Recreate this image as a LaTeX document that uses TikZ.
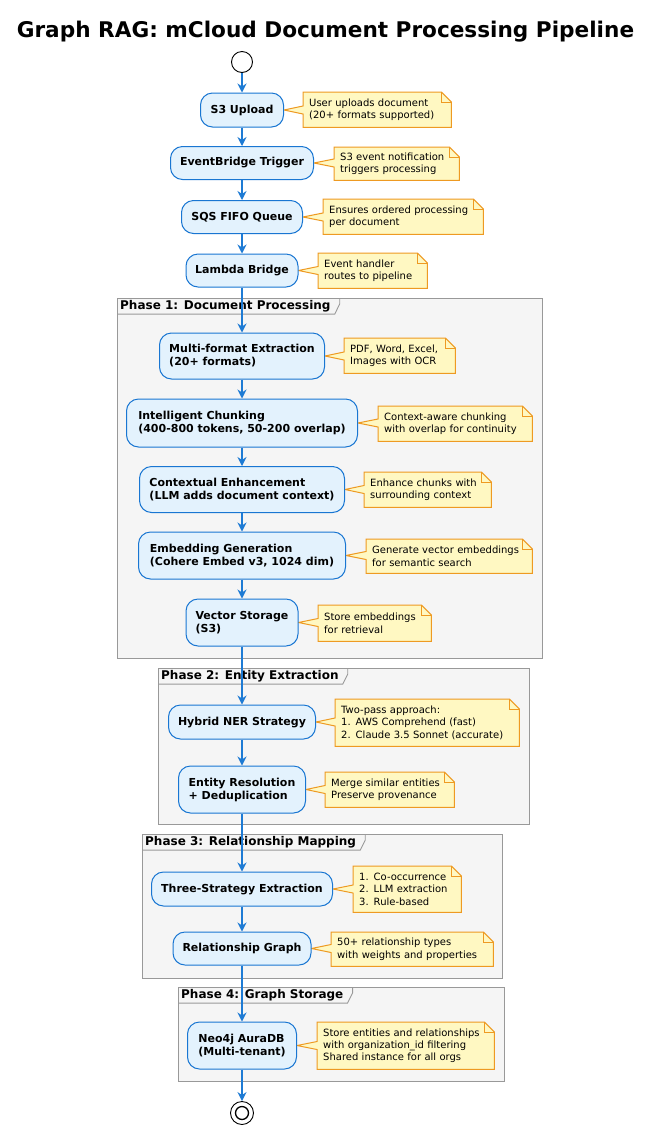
\documentclass[tikz,border=0pt]{standalone}
\usepackage{fontspec}
\setmainfont{DejaVu Sans}
\usetikzlibrary{arrows.meta,calc}
\definecolor{actfill}{HTML}{E3F2FD}
\definecolor{actdraw}{HTML}{1976D2}
\definecolor{flow}{HTML}{1E7BD4}
\definecolor{notefill}{HTML}{FFF8C2}
\definecolor{notedraw}{HTML}{EE9A22}
\definecolor{framefill}{HTML}{F5F5F5}
\definecolor{framedraw}{HTML}{999999}
\pgfdeclarelayer{paper}
\pgfdeclarelayer{frames}
\pgfdeclarelayer{notebg}
\pgfsetlayers{paper,frames,notebg,main}
\newcommand\notefor[2]{%
  \begin{pgfonlayer}{notebg}
  \path[noteshape] (#2.north west) -- ([xshift=-10pt]#2.north east) -- ([yshift=-10pt]#2.north east)
     -- (#2.south east) -- (#2.south west) -- ($(#2.west|-#1.east)+(0,4)$) -- (#1.east)
     -- ($(#2.west|-#1.east)+(0,-4)$) -- cycle;
  \draw[draw=notedraw, line width=1pt] ([xshift=-10pt]#2.north east) |- ([yshift=-10pt]#2.north east);
  \end{pgfonlayer}}
\newcommand\phaseframe[6]{% name, x1, y1, x2, y2, title
  \begin{pgfonlayer}{frames}
  \path[framebox] (#2,#3) rectangle (#4,#5);
  \node[tabtext] (#1) at (#2,#3) {#6};
  \draw[draw=framedraw, line width=0.9pt] (#1.south west) -- ($(#1.south east)+(1,0)$)
     -- ($(#1.north east)+(6,6)$) -- ($(#1.north east)+(6,0)$);
  \end{pgfonlayer}}
\begin{document}
\begin{tikzpicture}[x=1pt,y=-1pt,
  act/.style={draw=actdraw, fill=actfill, line width=1pt, rounded corners=12pt, align=left,
    inner sep=0pt, font=\fontsize{11}{13}\selectfont\bfseries},
  notetext/.style={anchor=north west, inner xsep=6pt, inner ysep=0pt, align=left,
    font=\fontsize{10}{12.3}\selectfont},
  noteshape/.style={fill=notefill, draw=notedraw, line width=1pt, line join=miter},
  flowarrow/.style={draw=flow, line width=1.6pt, -{Stealth[length=9pt,width=9pt,inset=3pt]}},
  framebox/.style={fill=framefill, draw=framedraw, line width=0.9pt},
  tabtext/.style={anchor=north west, inner xsep=3pt, inner ysep=2pt,
    font=\fontsize{12}{14}\selectfont\bfseries},
]
\useasboundingbox (0,0) rectangle (656,1128);
\begin{pgfonlayer}{paper}
\fill[white] (0,0) rectangle (656,1128);
\end{pgfonlayer}

\node[anchor=base, font=\fontsize{21.6}{24}\selectfont\bfseries] (title) at (325.5,37.5)
  {Graph RAG: mCloud Document Processing Pipeline};

% frames
\phaseframe{p1}{117}{298}{542}{658}{Phase 1: Document Processing}
\phaseframe{p2}{158}{668}{529}{824}{Phase 2: Entity Extraction}
\phaseframe{p3}{142}{834}{502}{978}{Phase 3: Relationship Mapping}
\phaseframe{p4}{178}{987}{504}{1081}{Phase 4: Graph Storage}

% start / stop
\node[circle, draw, fill=white, minimum size=21pt, inner sep=0pt, line width=0.9pt] (start) at (242,62) {};
\node[circle, draw, fill=white, minimum size=23pt, inner sep=0pt, line width=0.9pt] (stop) at (242,1113) {};
\node[circle, draw, minimum size=13pt, inner sep=0pt, line width=1.3pt] (stopin) at (242,1113) {};

% activities
\node[act, minimum width=83pt, minimum height=34pt] (s3) at (242,110) {S3 Upload};
\node[act, minimum width=143pt, minimum height=33pt] (eb) at (242,163) {EventBridge Trigger};
\node[act, minimum width=121pt, minimum height=33pt] (sqs) at (242,217) {SQS FIFO Queue};
\node[act, minimum width=112pt, minimum height=33pt] (lam) at (242,270.5) {Lambda Bridge};
\node[act, minimum width=165pt, minimum height=46pt] (mf) at (242,356) {Multi-format Extraction\\(20+ formats)};
\node[act, minimum width=231pt, minimum height=48pt] (ch) at (242,423) {Intelligent Chunking\\(400-800 tokens, 50-200 overlap)};
\node[act, minimum width=205pt, minimum height=46pt] (ce) at (242,489.5) {Contextual Enhancement\\(LLM adds document context)};
\node[act, minimum width=207pt, minimum height=47pt] (eg) at (242,555.5) {Embedding Generation\\(Cohere Embed v3, 1024 dim)};
\node[act, minimum width=112pt, minimum height=47pt] (vs) at (242,622.5) {Vector Storage\\(S3)};
\node[act, minimum width=147pt, minimum height=34pt] (ner) at (242,722) {Hybrid NER Strategy};
\node[act, minimum width=127pt, minimum height=47pt] (er) at (242,789.5) {Entity Resolution\\+ Deduplication};
\node[act, minimum width=181pt, minimum height=34pt] (ts) at (242,889) {Three-Strategy Extraction};
\node[act, minimum width=138pt, minimum height=33pt] (rg) at (242,948.5) {Relationship Graph};
\node[act, minimum width=109pt, minimum height=47pt] (neo) at (242,1045.5) {Neo4j AuraDB\\(Multi-tenant)};

% notes
\node[notetext, text width=136pt, minimum height=35pt] (n1) at (303,92) {User uploads document\\(20+ formats supported)};
\node[notetext, text width=113pt, minimum height=33pt] (n2) at (334,147) {S3 event notification\\triggers processing};
\node[notetext, text width=148pt, minimum height=35pt] (n3) at (323,199) {Ensures ordered processing\\per document};
\node[notetext, text width=97pt, minimum height=35pt] (n4) at (318,253) {Event handler\\routes to pipeline};
\node[notetext, text width=99pt, minimum height=35pt] (n5) at (344,338) {PDF, Word, Excel,\\Images with OCR};
\node[notetext, text width=142pt, minimum height=35pt] (n6) at (378,406) {Context-aware chunking\\with overlap for continuity};
\node[notetext, text width=115pt, minimum height=35pt] (n7) at (364,472) {Enhance chunks with\\surrounding context};
\node[notetext, text width=154pt, minimum height=34pt] (n8) at (366,539) {Generate vector embeddings\\for semantic search};
\node[notetext, text width=101pt, minimum height=36pt] (n9) at (318,605) {Store embeddings\\for retrieval};
\node[notetext, text width=172pt, minimum height=47pt] (n10) at (335,699) {Two-pass approach:\\1. AWS Comprehend (fast)\\2. Claude 3.5 Sonnet (accurate)};
\node[notetext, text width=117pt, minimum height=35pt] (n11) at (325,772) {Merge similar entities\\Preserve provenance};
\node[notetext, text width=96pt, minimum height=46pt] (n12) at (353,866) {1. Co-occurrence\\2. LLM extraction\\3. Rule-based};
\node[notetext, text width=150pt, minimum height=34pt] (n13) at (331,932) {50+ relationship types\\with weights and properties};
\node[notetext, text width=165pt, minimum height=47pt] (n14) at (317,1022) {Store entities and relationships\\with organization\_id filtering\\Shared instance for all orgs};

\notefor{s3}{n1}
\notefor{eb}{n2}
\notefor{sqs}{n3}
\notefor{lam}{n4}
\notefor{mf}{n5}
\notefor{ch}{n6}
\notefor{ce}{n7}
\notefor{eg}{n8}
\notefor{vs}{n9}
\notefor{ner}{n10}
\notefor{er}{n11}
\notefor{ts}{n12}
\notefor{rg}{n13}
\notefor{neo}{n14}

% flow
\draw[flowarrow] (start.south) -- (s3.north);
\draw[flowarrow] (s3.south) -- (eb.north);
\draw[flowarrow] (eb.south) -- (sqs.north);
\draw[flowarrow] (sqs.south) -- (lam.north);
\draw[flowarrow] (lam.south) -- (mf.north);
\draw[flowarrow] (mf.south) -- (ch.north);
\draw[flowarrow] (ch.south) -- (ce.north);
\draw[flowarrow] (ce.south) -- (eg.north);
\draw[flowarrow] (eg.south) -- (vs.north);
\draw[flowarrow] (vs.south) -- (ner.north);
\draw[flowarrow] (ner.south) -- (er.north);
\draw[flowarrow] (er.south) -- (ts.north);
\draw[flowarrow] (ts.south) -- (rg.north);
\draw[flowarrow] (rg.south) -- (neo.north);
\draw[flowarrow] (neo.south) -- (stop.north);
\end{tikzpicture}
\end{document}
